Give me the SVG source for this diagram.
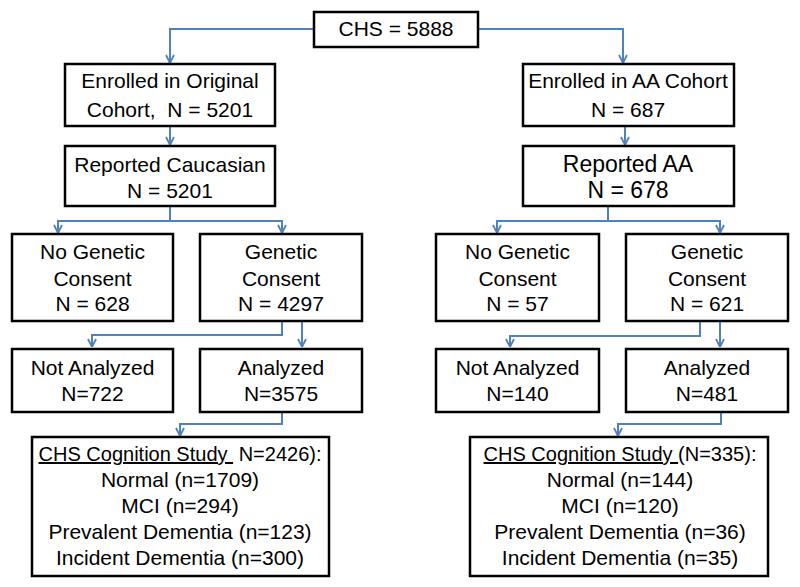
<svg xmlns="http://www.w3.org/2000/svg" width="800" height="587" viewBox="0 0 800 587">
<defs>
<style>
.box{fill:#fff;stroke:#000;stroke-width:2.5}
.t{font-family:"Liberation Sans",Arial,sans-serif;font-size:21px;fill:#000;text-anchor:middle}
.big{font-size:23px}
.hd{font-size:20px}
.c{fill:none;stroke:#4F81BD;stroke-width:2}
.u{text-decoration:underline}
</style>
<marker id="ah" viewBox="0 0 10 10" refX="10" refY="5" markerWidth="10" markerHeight="10" markerUnits="userSpaceOnUse" orient="auto">
<path d="M2,1 L10,5 L2,9" fill="none" stroke="#4F81BD" stroke-width="1.8"/>
</marker>
</defs>
<rect width="800" height="587" fill="#fff"/>
<g id="connectors">
<path class="c" d="M314,29 H170 V63" marker-end="url(#ah)"/>
<path class="c" d="M478,29 H623 V63" marker-end="url(#ah)"/>
<path class="c" d="M170,126 V145" marker-end="url(#ah)"/>
<path class="c" d="M625,126 V145" marker-end="url(#ah)"/>
<path class="c" d="M170,206 V221 H58 V233" marker-end="url(#ah)"/>
<path class="c" d="M170,221 H282 V233" marker-end="url(#ah)"/>
<path class="c" d="M608,206 V221 H497 V233" marker-end="url(#ah)"/>
<path class="c" d="M608,221 H720 V233" marker-end="url(#ah)"/>
<path class="c" d="M282,321 V335 H92 V347" marker-end="url(#ah)"/>
<path class="c" d="M302,321 V347" marker-end="url(#ah)"/>
<path class="c" d="M700,321 V336 H510 V347" marker-end="url(#ah)"/>
<path class="c" d="M720,321 V347" marker-end="url(#ah)"/>
<path class="c" d="M282,412 V424 H180 V436" marker-end="url(#ah)"/>
<path class="c" d="M721,412 V424 H618 V436" marker-end="url(#ah)"/>
</g>
<g id="chs">
<rect class="box" x="314" y="12" width="164" height="35"/>
<text class="t" x="396" y="36">CHS = 5888</text>
</g>
<g id="enrolled-original">
<rect class="box" x="65" y="64" width="210" height="62"/>
<text class="t" x="170" y="88">Enrolled in Original</text>
<text class="t" x="170" y="117" style="white-space:pre">Cohort,  N = 5201</text>
</g>
<g id="reported-caucasian">
<rect class="box" x="65" y="146" width="210" height="60"/>
<text class="t" x="170" y="172">Reported Caucasian</text>
<text class="t" x="170" y="198">N = 5201</text>
</g>
<g id="no-consent-left">
<rect class="box" x="12" y="234" width="161" height="87"/>
<text class="t" x="92.5" y="259">No Genetic</text>
<text class="t" x="92.5" y="286">Consent</text>
<text class="t" x="92.5" y="311">N = 628</text>
</g>
<g id="consent-left">
<rect class="box" x="200" y="234" width="162" height="87"/>
<text class="t" x="281" y="259">Genetic</text>
<text class="t" x="281" y="286">Consent</text>
<text class="t" x="281" y="311">N = 4297</text>
</g>
<g id="not-analyzed-left">
<rect class="box" x="12" y="349" width="161" height="63"/>
<text class="t" x="92.5" y="375">Not Analyzed</text>
<text class="t" x="92.5" y="401">N=722</text>
</g>
<g id="analyzed-left">
<rect class="box" x="200" y="349" width="162" height="63"/>
<text class="t" x="281" y="375">Analyzed</text>
<text class="t" x="281" y="401">N=3575</text>
</g>
<g id="cognition-left">
<rect class="box" x="32" y="437" width="297" height="139"/>
<text class="t hd" x="180" y="461" style="white-space:pre"><tspan class="u">CHS Cognition Study </tspan> N=2426):</text>
<text class="t" x="180" y="487">Normal (n=1709)</text>
<text class="t" x="180" y="513">MCI (n=294)</text>
<text class="t" x="180" y="539">Prevalent Dementia (n=123)</text>
<text class="t" x="180" y="565">Incident Dementia (n=300)</text>
</g>
<g id="enrolled-aa">
<rect class="box" x="523" y="64" width="211" height="62"/>
<text class="t" x="628" y="88">Enrolled in AA Cohort</text>
<text class="t" x="628" y="117">N = 687</text>
</g>
<g id="reported-aa">
<rect class="box" x="523" y="146" width="211" height="60"/>
<text class="t big" x="628" y="172">Reported AA</text>
<text class="t big" x="628" y="198">N = 678</text>
</g>
<g id="no-consent-right">
<rect class="box" x="436" y="234" width="163" height="87"/>
<text class="t" x="517.5" y="259">No Genetic</text>
<text class="t" x="517.5" y="286">Consent</text>
<text class="t" x="517.5" y="311">N = 57</text>
</g>
<g id="consent-right">
<rect class="box" x="626" y="234" width="162" height="87"/>
<text class="t" x="707" y="259">Genetic</text>
<text class="t" x="707" y="286">Consent</text>
<text class="t" x="707" y="311">N = 621</text>
</g>
<g id="not-analyzed-right">
<rect class="box" x="436" y="349" width="163" height="63"/>
<text class="t" x="517.5" y="375">Not Analyzed</text>
<text class="t" x="517.5" y="401">N=140</text>
</g>
<g id="analyzed-right">
<rect class="box" x="626" y="349" width="162" height="63"/>
<text class="t" x="707" y="375">Analyzed</text>
<text class="t" x="707" y="401">N=481</text>
</g>
<g id="cognition-right">
<rect class="box" x="470" y="437" width="298" height="139"/>
<text class="t hd" x="620" y="461" style="white-space:pre"><tspan class="u">CHS Cognition Study </tspan>(N=335):</text>
<text class="t" x="620" y="487">Normal (n=144)</text>
<text class="t" x="620" y="513">MCI (n=120)</text>
<text class="t" x="620" y="539">Prevalent Dementia (n=36)</text>
<text class="t" x="620" y="565">Incident Dementia (n=35)</text>
</g>
</svg>
